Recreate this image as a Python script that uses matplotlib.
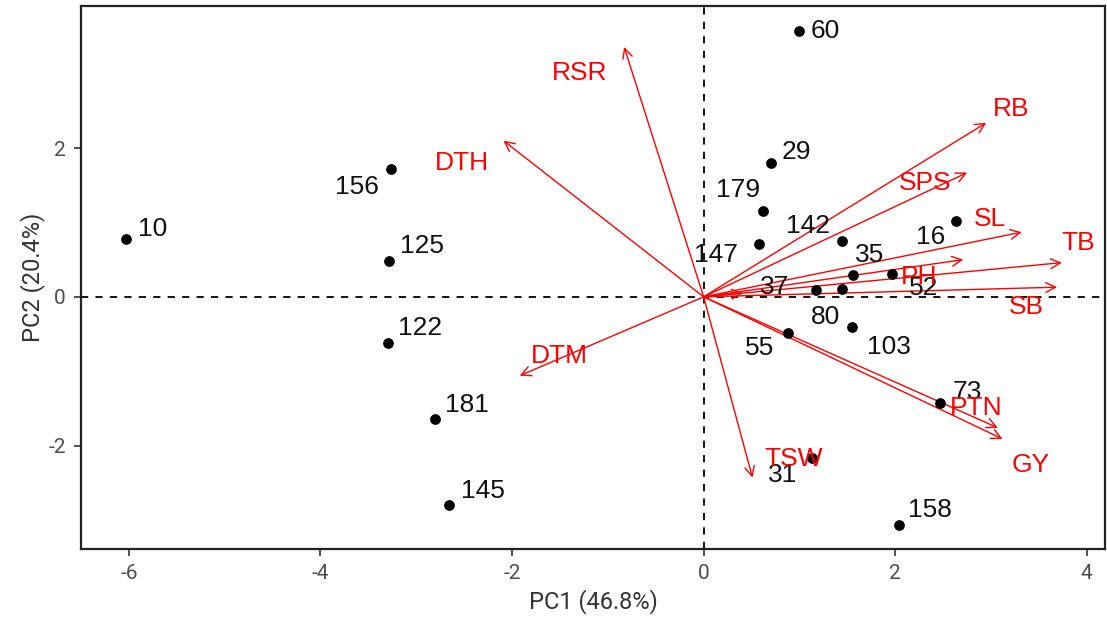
import matplotlib
matplotlib.use('Agg')
import matplotlib.pyplot as plt

plt.rcParams['axes.unicode_minus'] = False

# Individuals (PCA scores)
ind_names = ['10', '156', '125', '122', '181', '145', '60', '29', '179', '147',
             '142', '16', '35', '52', '80', '37', '55', '103', '73', '31', '158']
ind_pc1 = [-6.03, -3.26, -3.28, -3.30, -2.80, -2.66, 1.00, 0.70, 0.62, 0.58,
           1.44, 2.63, 1.56, 1.97, 1.44, 1.17, 0.88, 1.55, 2.47, 1.13, 2.04]
ind_pc2 = [0.78, 1.72, 0.48, -0.62, -1.64, -2.80, 3.58, 1.80, 1.16, 0.71,
           0.75, 1.02, 0.30, 0.31, 0.11, 0.09, -0.48, -0.40, -1.43, -2.17, -3.07]

# Variables (loadings, scaled)
var_names = ['RSR', 'DTH', 'DTM', 'TSW', 'PTN', 'GY', 'RB', 'SPS', 'SL', 'TB', 'SB', 'PH', '']
var_pc1 = [-0.83, -2.09, -1.92, 0.51, 3.07, 3.12, 2.95, 2.75, 3.32, 3.74, 3.69, 2.71, 0.41]
var_pc2 = [3.36, 2.10, -1.06, -2.43, -1.76, -1.91, 2.34, 1.67, 0.87, 0.46, 0.13, 0.50, 0.05]

# label offsets in pixels (repel-like placement)
ind_off = {'10': (27, 10), '156': (-34, -18), '125': (33, 15), '122': (33, 15),
           '181': (32, 14), '145': (34, 14), '60': (26, 0), '29': (26, 11),
           '179': (-25, 21), '147': (-43, -11), '142': (-34, 15), '16': (-25, -16),
           '35': (17, 20), '52': (31, -14), '80': (-16, -28), '37': (-41, 3),
           '55': (-28, -15), '103': (37, -20), '73': (27, 11), '31': (-29, -17),
           '158': (31, 15)}
var_off = {'RSR': (-45, -26), 'DTH': (-41, -22), 'DTM': (40, 20), 'TSW': (41, 19),
           'PTN': (-22, 20), 'GY': (28, -26), 'RB': (25, 14), 'SPS': (-42, -10),
           'SL': (-32, 13), 'TB': (16, 20), 'SB': (-31, -20), 'PH': (-44, -17), '': (0, 0)}

fig = plt.figure(figsize=(11.07, 6.35), dpi=100)
ax = fig.add_axes([81 / 1107, 1 - 549 / 635, 1024 / 1107, 543 / 635])
# offsets were measured in pixels; at dpi=100 1 px = 0.72 pt
k = 72 / 100

ax.axhline(0, color='black', ls=(0, (4, 4)), lw=1.3, zorder=1)
ax.axvline(0, color='black', ls=(0, (4, 4)), lw=1.3, zorder=1)

ax.scatter(ind_pc1, ind_pc2, s=45, color='black', zorder=3)
for n, x, y in zip(ind_names, ind_pc1, ind_pc2):
    dx, dy = ind_off[n]
    ax.annotate(n, (x, y), xytext=(dx * k, dy * k), textcoords='offset points',
                ha='center', va='center', fontsize=19, color='#111111',
                family='Liberation Sans', zorder=4)

for n, x, y in zip(var_names, var_pc1, var_pc2):
    ax.annotate('', xy=(x, y), xytext=(0, 0),
                arrowprops=dict(arrowstyle='->,head_length=0.7,head_width=0.35',
                                color='red', lw=1.0, shrinkA=0, shrinkB=0),
                zorder=2)
    if n:
        dx, dy = var_off[n]
        ax.annotate(n, (x, y), xytext=(dx * k, dy * k), textcoords='offset points',
                    ha='center', va='center', fontsize=19, color='red',
                    family='Liberation Sans', zorder=4)

ax.set_xlim(-6.50, 4.19)
ax.set_ylim(-3.39, 3.91)
ax.set_xticks([-6, -4, -2, 0, 2, 4])
ax.set_yticks([-2, 0, 2])
for s in ax.spines.values():
    s.set_linewidth(1.6)
    s.set_color('#222222')
ax.tick_params(length=5, width=1.2, color='#333333', labelcolor='#4D4D4D',
               labelsize=15, pad=6)
for lab in ax.get_xticklabels() + ax.get_yticklabels():
    lab.set_family(['Roboto'])

ax.set_xlabel('PC1 (46.8%)', fontsize=17, color='#333333',
              family=['Roboto'], labelpad=4)
ax.set_ylabel('PC2 (20.4%)', fontsize=17, color='#333333',
              family=['Roboto'], labelpad=2)

plt.savefig('out.png', dpi=100)
